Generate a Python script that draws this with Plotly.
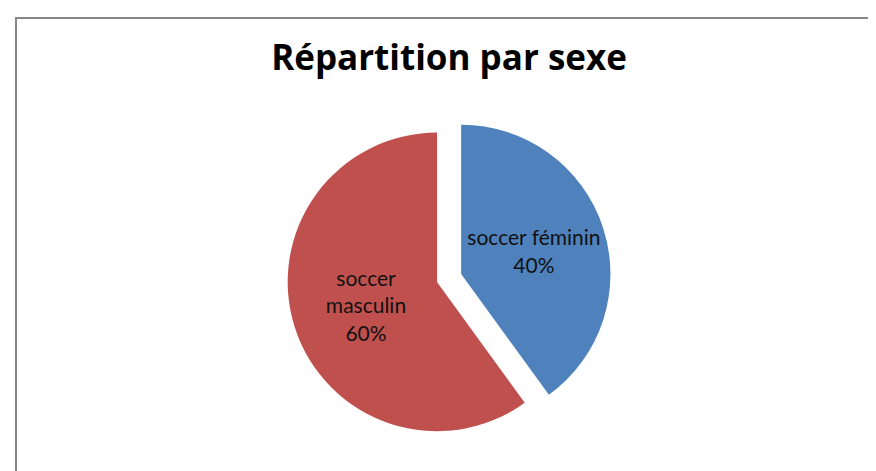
import plotly.graph_objects as go

labels = ["soccer féminin", "soccer masculin"]
values = [40, 60]
wrapped_labels = ["soccer féminin", "soccer<br>masculin"]
colors = ["#4F81BD", "#C0504D"]
title_text = "Répartition par sexe"

W, H = 876, 471

fig = go.Figure(go.Pie(
    labels=labels,
    values=values,
    customdata=wrapped_labels,
    texttemplate="%{customdata}<br>%{percent:.0%}",
    textposition="inside",
    insidetextorientation="horizontal",
    textfont=dict(family="Lato", size=21, color="#111111"),
    marker=dict(colors=colors, line=dict(width=0)),
    sort=False,
    direction="clockwise",
    rotation=0,
    pull=[0.085, 0.085],
    hole=0,
    showlegend=False,
    domain=dict(x=[0.2, 0.807], y=[(H - 432) / H, (H - 108) / H]),
))

fig.update_layout(
    width=W, height=H,
    margin=dict(l=0, r=0, t=0, b=0),
    paper_bgcolor="white",
    plot_bgcolor="white",
    title=dict(text=title_text, x=441 / W, xanchor="center",
               y=1 - 50 / H, yanchor="middle",
               font=dict(family="Open Sans", size=35, color="#000000", weight="bold")),
    shapes=[
        dict(type="line", xref="paper", yref="paper",
             x0=8 / W, x1=8 / W, y0=0, y1=1 - 10 / H,
             line=dict(color="#878787", width=2)),
        dict(type="line", xref="paper", yref="paper",
             x0=8 / W - 1 / W, x1=1, y0=1 - 10 / H, y1=1 - 10 / H,
             line=dict(color="#878787", width=2)),
    ],
)

fig.write_html("out.html")
